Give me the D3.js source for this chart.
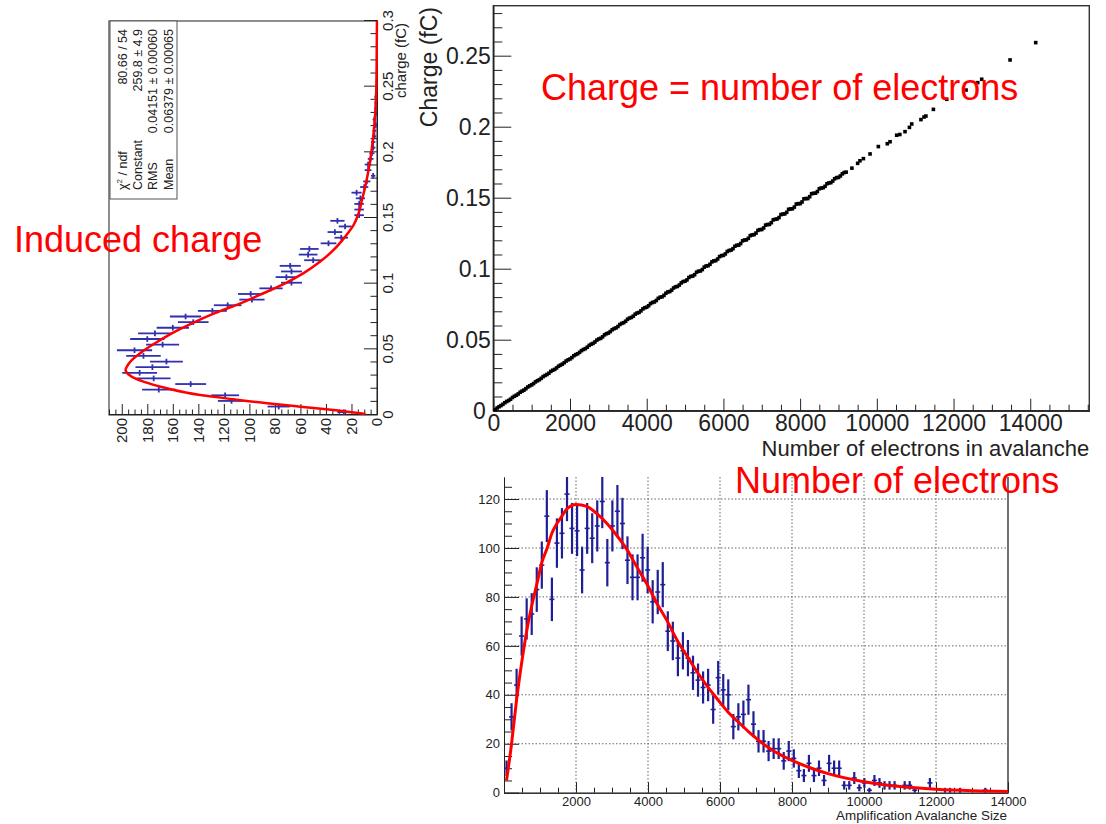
<!DOCTYPE html>
<html><head><meta charset="utf-8">
<script src="https://cdn.jsdelivr.net/npm/d3@7"></script>
<style>
body{margin:0;background:#fff;}
svg{display:block;font-family:"Liberation Sans",Arial,Helvetica,sans-serif;}
</style></head><body>
<svg id="c" width="1106" height="824"></svg>
<script>
// ---------- Panel 1: induced charge histogram (drawn rotated) ----------
const chargeRange = [0, 0.3];
const chargeBinCounts = [26,77,114,119,171,146,175,186,176,165,
  183,190,168,180,174,160,144,150,129,117,
  98,99,83,67,71,67,68,50,54,53,
  38,28,33,25,31,14,14,14,13,16,
  10,8,3,7,7,5,4,3,3,2,
  2,1,2,1,1,1,1,0,0,0,
  0,0,0,0,0,0,0,0,0,0];
const chargeFitQ = [0.0008,0.0038,0.0063,0.0089,0.012,0.0152,0.0203,0.0254,0.029,0.033,0.0345,0.0368,0.0419,0.0482,0.0546,0.0622,0.0698,0.0775,0.085,0.0927,0.1003,0.108,0.1168,0.1257,0.1358,0.1447,0.1536,0.1637,0.1739,0.1942,0.2145,0.24,0.265,0.3];
const chargeFitN = [9,34,60,86,112.5,138.6,164.7,183,192,196.6,197,196,192,184,174,160.8,145,127,107,89,72,57.5,44.5,34,24.9,18.3,14.4,11.8,9.2,5.3,2.7,0.8,0.3,0.05];
const chargeTicks = [0,0.05,0.1,0.15,0.2,0.25,0.3];
const countTicks = [0,20,40,60,80,100,120,140,160,180,200];
const statsLabels = ["χ","Constant","RMS","Mean"];
const statsValues = ["80.66 / 54","259.8 ± 4.9","0.04151 ± 0.00060","0.06379 ± 0.00065"];

// ---------- Panel 2: charge vs number of electrons ----------
const scatterX = [100,200,300,400,500,600,700,800,900,1000,1100,1200,1300,1400,1500,1600,1700,1800,1900,2000,
  2100,2200,2300,2400,2500,2600,2700,2800,2900,3000,3100,3200,3300,3400,3500,3600,3700,3800,3900,4000,
  4100,4200,4300,4400,4500,4600,4700,4800,4900,5000,5100,5200,5300,5400,5500,5600,5700,5800,5900,6000,
  6100,6200,6300,6400,6500,6600,6700,6800,6900,7000,7100,7200,7300,7400,7500,7600,7700,7800,7900,8000,
  8100,8200,8300,8400,8500,8600,8700,8800,8900,9000,9100,9200,9350,9500,
  9560,9650,9823,10040,10273,10345,10518,10600,10735,10850,10910,11150,11230,11280,11475,11823,12326,12631,12735,13474,14143,
  50,150,250,350,450,550,650,750,850,950,1050,1150,1250,1350,1450,1550,1650,1750,1850,1950,
  2050,2150,2250,2350,2450,2550,2650,2750,2850,2950,3050,3150,3250,3350,3450,3550,3650,3750,3850,3950,
  4050,4150,4250,4350,4450,4550,4650,4750,4850,4950,5050,5150,5250,5350,5450,5550,5650,5750,5850,5950,
  6050,6150,6250,6350,6450,6550,6650,6750,6850,6950,7050,7150,7250,7350,7450,7550,7650,7750,7850,7950,
  8050,8150,8250,8350,8450,8550,8650,8750,8850,8950,9050,9150];
const scatterY = [0.0019,0.0036,0.0056,0.0072,0.0093,0.0109,0.0130,0.0145,0.0167,0.0182,0.0203,0.0218,0.0240,0.0255,0.0277,0.0291,0.0313,0.0328,0.0350,0.0364,
  0.0387,0.0401,0.0423,0.0437,0.0460,0.0474,0.0497,0.0510,0.0534,0.0547,0.0570,0.0583,0.0607,0.0620,0.0644,0.0657,0.0680,0.0692,0.0717,0.0729,
  0.0754,0.0766,0.0791,0.0802,0.0827,0.0839,0.0864,0.0875,0.0900,0.0912,0.0938,0.0948,0.0975,0.0984,0.1011,0.1021,0.1048,0.1057,0.1085,0.1094,
  0.1121,0.1131,0.1158,0.1166,0.1196,0.1203,0.1233,0.1240,0.1270,0.1276,0.1307,0.1312,0.1344,0.1350,0.1381,0.1386,0.1418,0.1422,0.1455,0.1458,
  0.1492,0.1494,0.1528,0.1532,0.1563,0.1570,0.1598,0.1606,0.1633,0.1643,0.1668,0.1680,0.1708,0.1742,
  0.1760,0.1775,0.1808,0.1860,0.1880,0.1894,0.1940,0.1945,0.1965,0.1995,0.2019,0.2050,0.2068,0.2075,0.2122,0.2193,0.2258,0.2310,0.2334,0.2470,0.2592,
  0.0008,0.0028,0.0045,0.0065,0.0081,0.0102,0.0118,0.0138,0.0155,0.0175,0.0191,0.0211,0.0228,0.0248,0.0264,0.0285,0.0301,0.0321,0.0338,0.0358,
  0.0374,0.0395,0.0411,0.0431,0.0447,0.0468,0.0484,0.0505,0.0520,0.0542,0.0557,0.0578,0.0593,0.0615,0.0630,0.0652,0.0666,0.0688,0.0703,0.0725,
  0.0739,0.0762,0.0776,0.0799,0.0812,0.0836,0.0849,0.0872,0.0885,0.0909,0.0921,0.0946,0.0958,0.0982,0.0994,0.1019,0.1031,0.1055,0.1068,0.1092,
  0.1104,0.1128,0.1141,0.1165,0.1177,0.1202,0.1214,0.1238,0.1251,0.1275,0.1287,0.1311,0.1324,0.1348,0.1360,0.1385,0.1397,0.1421,0.1434,0.1458,
  0.1470,0.1494,0.1507,0.1531,0.1543,0.1568,0.1580,0.1604,0.1617,0.1641,0.1653,0.1677];
const electronTicks = [0,2000,4000,6000,8000,10000,12000,14000];
const chargeYTicks = [0,0.05,0.1,0.15,0.2,0.25];

// ---------- Panel 3: avalanche size histogram ----------
const avalancheRange = [0, 14000];
const avalancheCounts = [10,31,44,64,71,73,83,93,113,79,
  102,106,122,108,107,91,108,104,109,119,
  94,109,115,110,95,88,88,96,91,78,
  82,85,66,62,55,58,55,49,46,43,
  44,34,47,42,40,27,31,32,38,28,
  21,21,17,18,18,13,17,14,9,7,
  12,7,10,5,12,10,10,3,3,6,
  2,4,1,5,4,3,3,3,0,3,
  3,1,0,0,4,0,0,1,1,0,
  1,0,0,0,0,1,0,0,0,0];
const avalancheFitX = [70,210,350,500,630,780,910,1050,1200,1330,1470,1610,1750,2000,2300,2580,2860,3140,3430,3700,3980,4260,4540,4820,5100,5380,5670,5940,6220,6500,6790,7070,7490,8000,8540,9000,10000,11000,12000,13000,14000];
const avalancheFitY = [5,20,38,54,66,77,85,94,100,106,110,113,116,117.8,117,114,110,105,99,92,85,77,70,62,55.5,49,43,38,33,29,25,21.5,17,13.2,10,7.8,4.5,2.5,1.4,0.8,0.5];
const avalancheXTicks = [2000,4000,6000,8000,10000,12000,14000];
const avalancheYTicks = [0,20,40,60,80,100,120];

const FONT = '"Liberation Sans", Arial, Helvetica, sans-serif';
const svg = d3.select("#c");
const fmt = d3.format("~g");
const fmtInt = d3.format("d");

function styleAxis(g, size, color) {
  g.attr("font-family", FONT).attr("font-size", size);
  g.selectAll("text").attr("fill", color || "#222");
  g.selectAll("line").attr("stroke", "#222");
  g.select(".domain").attr("stroke", "#222");
}

// ===== Panel 1 =====
(function(){
  const W = 394, H = 268;
  const g = svg.append("g").attr("transform", "translate(109,415) rotate(-90)");
  const x = d3.scaleLinear().domain(chargeRange).range([0, W]);
  const y = d3.scaleLinear().domain([0, 210]).range([H, 0]);
  const nb = chargeBinCounts.length;
  const bw = (chargeRange[1] - chargeRange[0]) / nb;

  g.append("rect").attr("x",0).attr("y",0).attr("width",W).attr("height",H)
    .attr("fill","none").attr("stroke","#444").attr("stroke-width",1.2);

  const minorQ = d3.range(0, 0.3001, 0.01).filter(d => Math.round(d*100) % 5 !== 0);
  const gxm = g.append("g").attr("transform",`translate(0,${H})`)
    .call(d3.axisBottom(x).tickValues(minorQ).tickSize(-6.5).tickSizeOuter(0).tickFormat(""));
  styleAxis(gxm, 15);
  const gx = g.append("g").attr("transform",`translate(0,${H})`)
    .call(d3.axisBottom(x).tickValues(chargeTicks).tickSize(-13).tickSizeOuter(0).tickPadding(5).tickFormat(fmt));
  styleAxis(gx, 15);

  const minorN = d3.range(0, 211, 5).filter(d => d % 20 !== 0);
  const gym = g.append("g")
    .call(d3.axisLeft(y).tickValues(minorN).tickSize(-5.5).tickSizeOuter(0).tickFormat(""));
  styleAxis(gym, 15);
  const gy = g.append("g")
    .call(d3.axisLeft(y).tickValues(countTicks).tickSize(-11).tickSizeOuter(0).tickPadding(3).tickFormat(fmtInt));
  styleAxis(gy, 15);

  g.append("text").attr("x", 392).attr("y", 296.5).attr("text-anchor","end")
    .attr("font-family",FONT).attr("font-size",15).attr("fill","#222").text("charge (fC)");

  const pts = chargeBinCounts.map((c,i)=>({q: chargeRange[0] + (i+0.5)*bw, c})).filter(d=>d.c>0);
  const pg = g.append("g").attr("stroke","#2f2fb0").attr("stroke-width",1.8);
  pg.selectAll("line.h").data(pts).join("line")
    .attr("x1", d=>x(d.q - bw/2)).attr("x2", d=>x(d.q + bw/2))
    .attr("y1", d=>y(d.c)).attr("y2", d=>y(d.c));
  pg.selectAll("line.v").data(pts).join("line")
    .attr("x1", d=>x(d.q)).attr("x2", d=>x(d.q))
    .attr("y1", d=>y(Math.max(0,d.c - Math.sqrt(d.c)))).attr("y2", d=>y(d.c + Math.sqrt(d.c)));

  const fit = chargeFitQ.map((q,i)=>[q, chargeFitN[i]]);
  g.append("path").datum(fit)
    .attr("d", d3.line().x(d=>x(d[0])).y(d=>y(d[1])).curve(d3.curveMonotoneX))
    .attr("fill","none").attr("stroke","#ff0000").attr("stroke-width",2.5);

  g.append("rect").attr("x",216).attr("y",1).attr("width",178).attr("height",67)
    .attr("fill","#fff").attr("stroke","#555").attr("stroke-width",1);
  const base = [18, 33, 48, 63.5];
  statsLabels.forEach((lab,i)=>{
    const t = g.append("text").attr("x",225).attr("y",base[i])
      .attr("font-family",FONT).attr("font-size",12.5).attr("fill","#222");
    if (i === 0) {
      t.append("tspan").text(lab);
      t.append("tspan").attr("font-size",8).attr("dy",-5).text("2");
      t.append("tspan").attr("dy",5).text(" / ndf");
    } else t.text(lab);
    g.append("text").attr("x",386).attr("y",base[i]).attr("text-anchor","end")
      .attr("font-family",FONT).attr("font-size",12.5).attr("fill","#222").text(statsValues[i]);
  });
})();

// ===== Panel 2 =====
(function(){
  const x = d3.scaleLinear().domain([0,15540]).range([493.3,1089.3]);
  const y = d3.scaleLinear().domain([0,0.2852]).range([410.7,5.7]);
  svg.append("rect").attr("x",493.3).attr("y",5.7).attr("width",596).attr("height",405)
    .attr("fill","none").attr("stroke","#333").attr("stroke-width",1.4);

  const minorX = d3.range(500, 15501, 500).filter(d => d % 2000 !== 0);
  const gxm = svg.append("g").attr("transform","translate(0,410.7)")
    .call(d3.axisBottom(x).tickValues(minorX).tickSize(-6).tickSizeOuter(0).tickFormat(""));
  styleAxis(gxm, 23);
  const gx = svg.append("g").attr("transform","translate(0,410.7)")
    .call(d3.axisBottom(x).tickValues(electronTicks).tickSize(-12).tickSizeOuter(0).tickPadding(3.5).tickFormat(fmtInt));
  styleAxis(gx, 23);

  const minorY = d3.range(0, 0.2851, 0.01).filter(d => Math.round(d*100) % 5 !== 0);
  const gym = svg.append("g").attr("transform","translate(493.3,0)")
    .call(d3.axisLeft(y).tickValues(minorY).tickSize(-9).tickSizeOuter(0).tickFormat(""));
  styleAxis(gym, 23);
  const gy = svg.append("g").attr("transform","translate(493.3,0)")
    .call(d3.axisLeft(y).tickValues(chargeYTicks).tickSize(-18).tickSizeOuter(0).tickPadding(2.5).tickFormat(fmt));
  styleAxis(gy, 23);
  gy.selectAll(".tick text").filter(d => d === 0).attr("x", -7.5);

  svg.append("text").attr("x",1089.3).attr("y",455.5).attr("text-anchor","end")
    .attr("font-family",FONT).attr("font-size",22).attr("fill","#222").text("Number of electrons in avalanche");
  svg.append("text").attr("transform","translate(437,7) rotate(-90)").attr("text-anchor","end")
    .attr("font-family",FONT).attr("font-size",23).attr("fill","#222").text("Charge (fC)");

  const pts = scatterX.map((v,i)=>[v, scatterY[i]]);
  svg.append("g").selectAll("rect").data(pts).join("rect")
    .attr("x", d=>x(d[0])-1.8).attr("y", d=>y(d[1])-1.8)
    .attr("width",3.6).attr("height",3.6).attr("fill","#000");
})();

// ===== Panel 3 =====
(function(){
  const x = d3.scaleLinear().domain(avalancheRange).range([504,1008]);
  const y = d3.scaleLinear().domain([0,129]).range([792.7,477]);
  const nb = avalancheCounts.length;
  const bw = (avalancheRange[1]-avalancheRange[0]) / nb;

  const grid = svg.append("g").attr("stroke","#666").attr("stroke-width",1).attr("stroke-dasharray","1.5,2");
  grid.selectAll("line.gx").data(avalancheXTicks.filter(d=>d<14000)).join("line")
    .attr("x1",d=>x(d)).attr("x2",d=>x(d)).attr("y1",477).attr("y2",792.7);
  grid.selectAll("line.gy").data(avalancheYTicks.filter(d=>d>0)).join("line")
    .attr("x1",504).attr("x2",1008).attr("y1",d=>y(d)).attr("y2",d=>y(d));

  svg.append("line").attr("x1",1008).attr("x2",1008).attr("y1",477).attr("y2",792.7)
    .attr("stroke","#222").attr("stroke-width",1.3);

  const minorX = d3.range(500, 14000, 500).filter(d => d % 2000 !== 0);
  const gxm = svg.append("g").attr("transform","translate(0,792.7)")
    .call(d3.axisBottom(x).tickValues(minorX).tickSize(-5).tickSizeOuter(0).tickFormat(""));
  styleAxis(gxm, 13);
  const gx = svg.append("g").attr("transform","translate(0,792.7)")
    .call(d3.axisBottom(x).tickValues(avalancheXTicks).tickSize(-10.5).tickSizeOuter(0).tickPadding(4).tickFormat(fmtInt));
  styleAxis(gx, 13);

  const minorY = d3.range(5, 129, 5).filter(d => d % 20 !== 0);
  const gym = svg.append("g").attr("transform","translate(504,0)")
    .call(d3.axisLeft(y).tickValues(minorY).tickSize(-8).tickSizeOuter(0).tickFormat(""));
  styleAxis(gym, 13);
  const gy = svg.append("g").attr("transform","translate(504,0)")
    .call(d3.axisLeft(y).tickValues(avalancheYTicks).tickSize(-15).tickSizeOuter(0).tickPadding(4).tickFormat(fmtInt));
  styleAxis(gy, 13);

  svg.append("text").attr("x",1007).attr("y",820).attr("text-anchor","end")
    .attr("font-family",FONT).attr("font-size",13.4).attr("fill","#222").text("Amplification Avalanche Size");

  svg.append("clipPath").attr("id","clip3").append("rect")
    .attr("x",504).attr("y",477).attr("width",504).attr("height",316);
  const pts = avalancheCounts.map((c,i)=>({v: avalancheRange[0]+(i+0.5)*bw, c})).filter(d=>d.c>0);
  const pg = svg.append("g").attr("clip-path","url(#clip3)").attr("stroke","#1e1e96");
  pg.selectAll("line.v").data(pts).join("line").attr("stroke-width",2.2)
    .attr("x1",d=>x(d.v)).attr("x2",d=>x(d.v))
    .attr("y1",d=>y(Math.max(0,d.c-Math.sqrt(d.c)))).attr("y2",d=>y(d.c+Math.sqrt(d.c)));
  pg.selectAll("line.h").data(pts).join("line").attr("stroke-width",1.6)
    .attr("x1",d=>x(d.v-bw/2)).attr("x2",d=>x(d.v+bw/2))
    .attr("y1",d=>y(d.c)).attr("y2",d=>y(d.c));

  const fit = avalancheFitX.map((v,i)=>[v, avalancheFitY[i]]);
  svg.append("path").datum(fit).attr("clip-path","url(#clip3)")
    .attr("d", d3.line().x(d=>x(d[0])).y(d=>y(d[1])).curve(d3.curveMonotoneX))
    .attr("fill","none").attr("stroke","#ff0000").attr("stroke-width",3);
})();

// ===== Red annotations =====
const notes = [
  {t:"Induced charge", x:14, y:252},
  {t:"Charge = number of electrons", x:541, y:100},
  {t:"Number of electrons", x:735, y:493}
];
svg.append("g").selectAll("text").data(notes).join("text")
  .attr("x",d=>d.x).attr("y",d=>d.y).attr("font-family",FONT).attr("font-size",36)
  .attr("fill","#ff0000").text(d=>d.t);
</script>
</body></html>
